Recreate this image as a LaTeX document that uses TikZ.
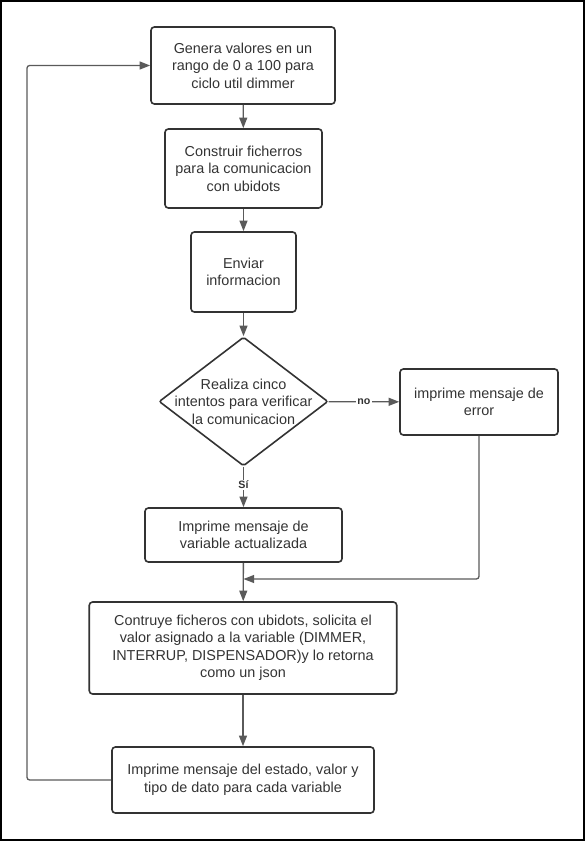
\documentclass[tikz,border=0pt]{standalone}
\usepackage{fontspec}
\setmainfont{Liberation Sans}
\usepackage{tikz}
\usetikzlibrary{%
  arrows.meta,
  positioning,
  shapes.geometric
}
\definecolor{gristrait}{HTML}{5A5A5A}
\definecolor{gristexte}{HTML}{333333}

\begin{document}
\begin{tikzpicture}[
  x=0.75pt,
  y=-0.75pt,
  >={Triangle[length=8pt, width=6pt]},
  thin,
  boite/.style={draw=gristexte, line width=1.2pt, rounded corners=2.5pt,
                align=center, text=gristexte, inner sep=0pt,
                font=\fontsize{10.8}{13.1}\selectfont},
  decision/.style={boite, shape=diamond, rounded corners=1.5pt},
  fleche/.style={->, draw=gristrait, line width=1pt},
  etiquette/.style={fill=white, inner sep=1pt, text=gristexte,
                    font=\fontsize{8}{9}\selectfont\bfseries},
]
  \useasboundingbox ( 0.0, 0.0) rectangle ( 585.0, 841.0) ;
  % cadre
  \draw [line width=1.5pt] ( 1.0, 1.0) rectangle ( 584.0, 840.0) ;

  % boites
  \node (genera) [boite, minimum width=138pt, minimum height=57.75pt]
        at ( 243.0, 65.5) {Genera valores en un\\rango de 0 a 100 para\\ciclo util dimmer} ;
  \node (ficheros) [boite, minimum width=117.75pt, minimum height=59.25pt]
        at ( 243.5, 168.5) {Construir ficherros\\para la comunicacion\\con ubidots} ;
  \node (enviar) [boite, minimum width=78.75pt, minimum height=60pt]
        at ( 243.5, 272.0) {Enviar\\informacion} ;
  \node (intentos) [decision, minimum width=126.75pt, minimum height=96.75pt,
        label={[align=center, text=gristexte, font=\fontsize{10.8}{13.1}\selectfont]center:Realiza cinco\\intentos para verificar\\la comunicacion}]
        at ( 243.5, 401.5) {} ;
  \node (error) [boite, minimum width=118.5pt, minimum height=49.5pt]
        at ( 479.0, 402.0) {imprime mensaje de\\error} ;
  \node (actualizada) [boite, minimum width=147.75pt, minimum height=40.5pt]
        at ( 243.5, 535.0) {Imprime mensaje de\\variable actualizada} ;
  \node (json) [boite, minimum width=230.6pt, minimum height=69pt]
        at ( 243.0, 648.0) {Contruye ficheros con ubidots, solicita el\\valor asignado a la variable (DIMMER,\\INTERRUP, DISPENSADOR)y lo retorna\\como un json} ;
  \node (estado) [boite, minimum width=196.5pt, minimum height=49.5pt]
        at ( 243.0, 780.0) {Imprime mensaje del estado, valor y\\tipo de dato para cada variable} ;

  \coordinate (union) at ( 243.5, 579.0) ;
  \coordinate (retour) at ( 27.0, 400.0) ;

  % liaisons
  \draw [fleche] (genera) -- (ficheros) ;
  \draw [fleche] (ficheros) -- (enviar) ;
  \draw [fleche] (enviar) -- (intentos) ;
  \draw [fleche] (intentos) -- node [etiquette] {no} (error) ;
  \draw [fleche] (intentos) -- node [etiquette, pos=0.45] {Sí} (actualizada) ;
  \draw [fleche, rounded corners=2pt] (error) |- (union) ;
  \draw [fleche] (actualizada) -- (json) ;
  \draw [fleche] (json) -- (estado) ;
  \draw [fleche, rounded corners=2pt]
        (estado.west) -- (estado.west -| retour)
        -- (retour |- genera.west) -- (genera.west) ;
\end{tikzpicture}
\end{document}
